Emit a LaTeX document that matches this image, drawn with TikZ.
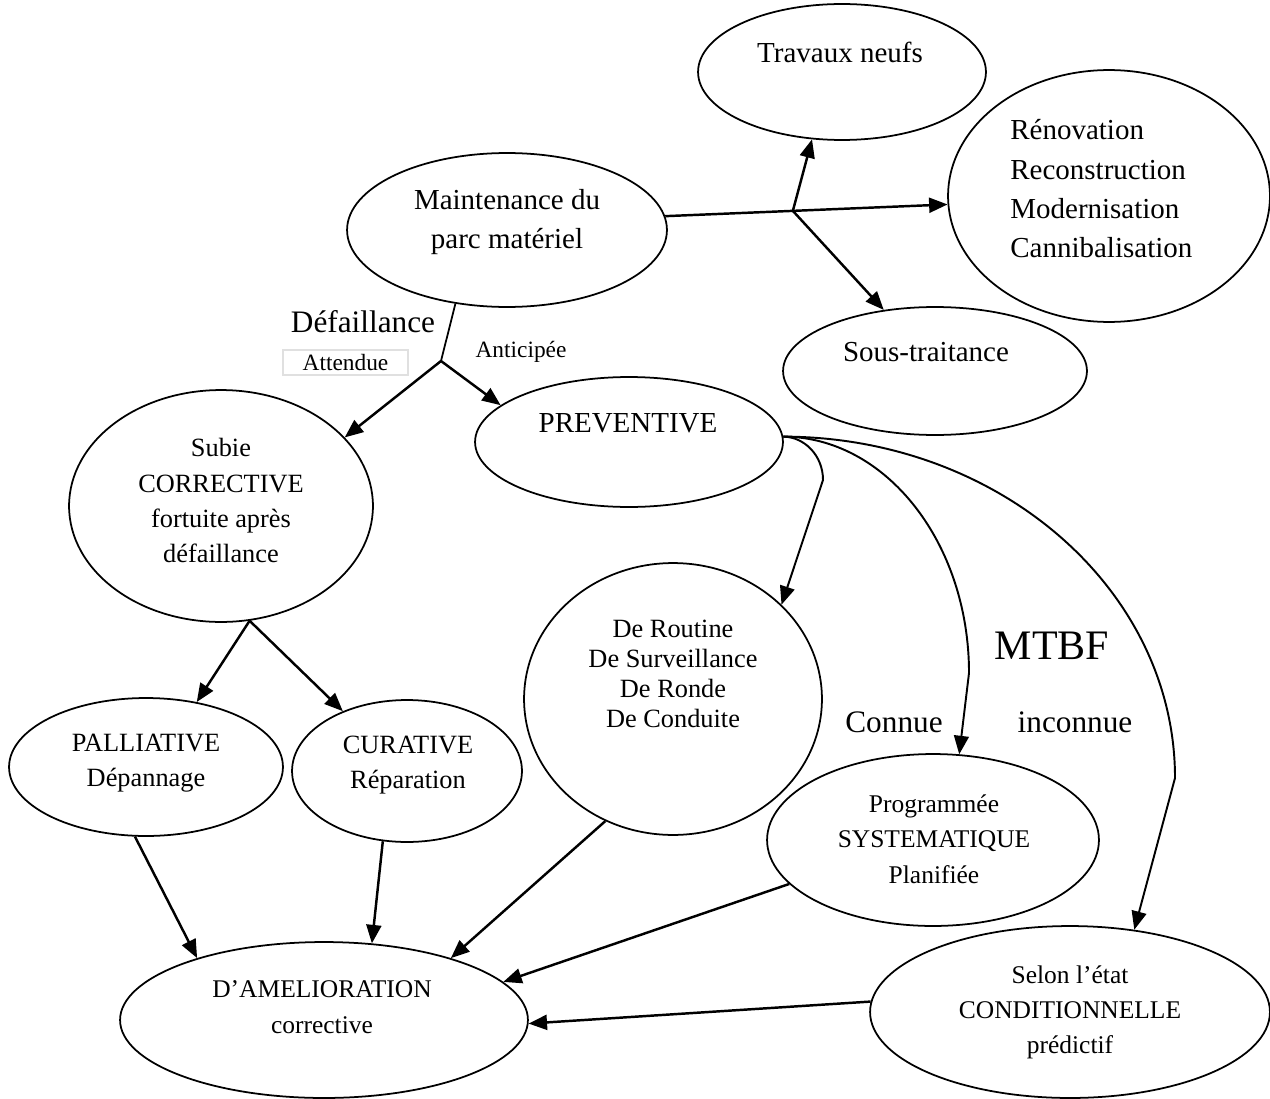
\documentclass[tikz,border=0pt]{standalone}
\usepackage{fontspec}
\setmainfont{Liberation Serif}
\usetikzlibrary{shapes.geometric,arrows.meta,calc}
\begin{document}
\begin{tikzpicture}[x=0.02cm,y=-0.02cm,
  ell/.style 2 args={ellipse,draw,line width=1pt,
    minimum width=#1*0.04cm,minimum height=#2*0.04cm,inner sep=0pt},
  tA/.style={anchor=base,inner sep=0pt,font=\fontsize{16.5}{20}\selectfont},
  tB/.style={anchor=base,inner sep=0pt,font=\fontsize{15}{18}\selectfont},
  tC/.style={anchor=base,inner sep=0pt,font=\fontsize{14.5}{18}\selectfont},
  tsmall/.style={anchor=base,inner sep=0pt,font=\fontsize{13.3}{16}\selectfont},
  tbig/.style={anchor=base,inner sep=0pt,font=\fontsize{17.8}{21}\selectfont},
  conn/.style={line width=1.4pt,-{Triangle[length=10.5pt,width=8.5pt]}},
  curveconn/.style={line width=1.1pt,-{Triangle[length=10.5pt,width=8.5pt]}},
  stem/.style={line width=1pt},
]
\useasboundingbox (0,0) rectangle (1270,1098);

% ---- ellipses ----
\node[ell={144}{68}]  (trav)    at (842,72)   {};
\node[ell={161}{126}] (renov)   at (1109,196) {};
\node[ell={160}{77}]  (maint)   at (507,230)  {};
\node[ell={152}{64}]  (sous)    at (935,371)  {};
\node[ell={154}{65}]  (prev)    at (629,442)  {};
\node[ell={152}{116}] (subie)   at (221,506)  {};
\node[ell={149}{136}] (routine) at (673,699)  {};
\node[ell={137}{69}]  (pall)    at (146,767)  {};
\node[ell={115}{71}]  (cur)     at (407,771)  {};
\node[ell={204}{78}]  (amel)    at (324,1020) {};
\node[ell={166}{86}]  (prog)    at (933,840)  {};
\node[ell={200}{86}]  (selon)   at (1070,1012){};

% ---- texts inside the ellipses ----
\node[tA] (trav-t) at (840,63) {Travaux neufs};
\node[tA,anchor=base west] (renov-t1) at (1010,140) {Rénovation};
\node[tA,anchor=base west] (renov-t2) at (1010,180) {Reconstruction};
\node[tA,anchor=base west] (renov-t3) at (1010,218) {Modernisation};
\node[tA,anchor=base west] (renov-t4) at (1010,257) {Cannibalisation};
\node[tA] (maint-t1) at (507,210) {Maintenance du};
\node[tA] (maint-t2) at (507,248) {parc matériel};
\node[tA] (sous-t) at (926,361) {Sous-traitance};
\node[tA] (prev-t) at (628,432) {PREVENTIVE};

\node[tB] (subie-t1) at (221,456) {Subie};
\node[tB] (subie-t2) at (221,492) {CORRECTIVE};
\node[tB] (subie-t3) at (221,527) {fortuite après};
\node[tB] (subie-t4) at (221,562) {défaillance};

\node[tB] (routine-t1) at (673,637) {De Routine};
\node[tB] (routine-t2) at (673,667) {De Surveillance};
\node[tB] (routine-t3) at (673,697) {De Ronde};
\node[tB] (routine-t4) at (673,727) {De Conduite};

\node[tB] (pall-t1) at (146,751) {PALLIATIVE};
\node[tB] (pall-t2) at (146,786) {Dépannage};
\node[tB] (cur-t1) at (408,753) {CURATIVE};
\node[tB] (cur-t2) at (408,788) {Réparation};

\node[tC] (amel-t1) at (322,997) {D’AMELIORATION};
\node[tC] (amel-t2) at (322,1033) {corrective};

\node[tC] (prog-t1) at (934,812) {Programmée};
\node[tC] (prog-t2) at (934,847) {SYSTEMATIQUE};
\node[tC] (prog-t3) at (934,883) {Planifiée};

\node[tC] (selon-t1) at (1070,983) {Selon l’état};
\node[tC] (selon-t2) at (1070,1018) {CONDITIONNELLE};
\node[tC] (selon-t3) at (1070,1053) {prédictif};

% ---- free labels ----
\node[tbig] (defail) at (363,332) {Défaillance};
\node[draw=black!12,line width=0.6pt,minimum width=125*0.02cm,
      minimum height=25*0.02cm,inner sep=0pt,
      font=\fontsize{13.3}{16}\selectfont] (attendue) at (345.5,362.5) {Attendue};
\node[tsmall] (anticipee) at (521,357) {Anticipée};
\node[anchor=base,inner sep=0pt,font=\fontsize{23.9}{28}\selectfont] (mtbf) at (1052,659) {MTBF};
\node[tbig] (connue) at (894,732) {Connue};
\node[tbig] (inconnue) at (1075,732) {inconnue};

% ---- connectors from the top ellipse ----
\draw[conn] (maint.5) -- coordinate[pos=0.452] (fork) (renov.183);
\draw[conn] (fork) -- (trav.-114);
\draw[conn] (fork) -- (sous.130);

\coordinate (split) at (441,361);
\draw[stem] (maint.-125) -- (split);
\draw[conn] (split) -- (subie.29);
\draw[conn] (split) -- (prev.164);

\coordinate (split2) at (subie.-76);
\draw[conn] (split2) -- (pall.52);
\draw[conn] (split2) -- (cur.137);

% ---- towards the bottom ellipse ----
\draw[conn] (pall.-99) -- (amel.154);
\draw[conn] (cur.-109) -- (amel.58);
\draw[conn] (routine.-119) -- (amel.26);
\draw[conn] (prog.197) -- (amel.12);
\draw[conn] (selon.177) -- (amel.-1);

% ---- curved branches out of PREVENTIVE ----
\coordinate (pv) at (prev.2);
\draw[curveconn] (pv) .. controls (805,437) and (823,456) .. (823,480) -- (routine.41);
\draw[curveconn] (pv) .. controls (886,437) and (969,543) .. (969,673) -- (prog.73);
\draw[curveconn] (pv) .. controls (1000,437) and (1175,590) .. (1175,778) -- (selon.52);
\end{tikzpicture}
\end{document}
